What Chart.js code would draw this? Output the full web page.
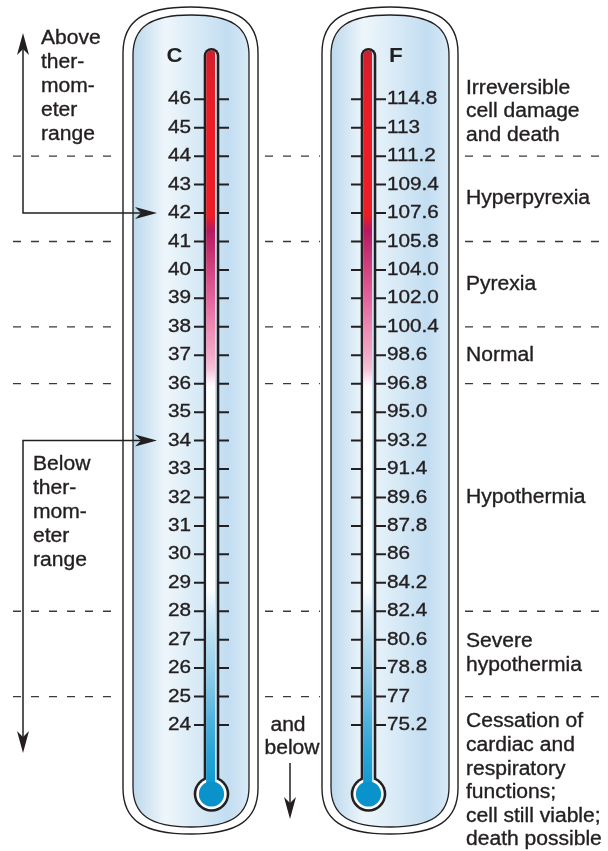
<!DOCTYPE html>
<html>
<head>
<meta charset="utf-8">
<script src="https://cdn.jsdelivr.net/npm/chart.js@4.4.0/dist/chart.umd.min.js"></script>
<style>
  html, body { margin: 0; padding: 0; background: #fff; }
  #wrap { width: 608px; height: 851px; }
</style>
</head>
<body>
<div id="wrap"><canvas id="thermo" width="608" height="851"></canvas></div>
<script>
// Celsius ticks and the matching Fahrenheit labels as printed
const celsius = [46, 45, 44, 43, 42, 41, 40, 39, 38, 37, 36, 35, 34, 33, 32, 31, 30, 29, 28, 27, 26, 25, 24];
const fahrenheit = ['114.8', '113', '111.2', '109.4', '107.6', '105.8', '104.0', '102.0', '100.4', '98.6', '96.8',
  '95.0', '93.2', '91.4', '89.6', '87.8', '86', '84.2', '82.4', '80.6', '78.8', '77', '75.2'];

// Zone boundaries (°C) and the text of each zone, top to bottom
const zoneBounds = [44, 41, 38, 36, 28, 25];
const zoneLabels = [
  ['Irreversible', 'cell damage', 'and death'],
  ['Hyperpyrexia'],
  ['Pyrexia'],
  ['Normal'],
  ['Hypothermia'],
  ['Severe', 'hypothermia'],
  ['Cessation of', 'cardiac and', 'respiratory', 'functions;', 'cell still viable;', 'death possible']
];
const zoneLabelAt = [45.55, 42.5, 39.5, 37, 32, 26.5, 22.03];

// Out-of-range notes and where their arrows point (°C)
const rangeNotes = [['Above', 'ther-', 'mom-', 'eter', 'range'], ['Below', 'ther-', 'mom-', 'eter', 'range']];
const rangeArrowAt = [42, 34];

const INK = '#231f20';
const LEFT_X = 211.5, RIGHT_X = 368.5;

function txt(ctx, s, x, y, size, align, sx, bold) {
  ctx.save();
  ctx.font = (bold ? 'bold ' : '') + size + 'px "Liberation Sans", Arial, sans-serif';
  ctx.fillStyle = INK;
  ctx.strokeStyle = INK;
  ctx.lineWidth = 0.35;
  ctx.textBaseline = 'middle';
  ctx.textAlign = align;
  ctx.translate(x, y);
  ctx.scale(sx, 1);
  ctx.fillText(s, 0, 0);
  if (!bold) ctx.strokeText(s, 0, 0);
  ctx.restore();
}

function capsule(ctx, l, t, r, b, ry) {
  const cx = (l + r) / 2, k = 0.7;
  ctx.beginPath();
  ctx.moveTo(l, t + ry);
  ctx.bezierCurveTo(l, t + ry * (1 - k), cx - (cx - l) * k, t, cx, t);
  ctx.bezierCurveTo(cx + (r - cx) * k, t, r, t + ry * (1 - k), r, t + ry);
  ctx.lineTo(r, b - ry);
  ctx.bezierCurveTo(r, b - ry * (1 - k), cx + (r - cx) * k, b, cx, b);
  ctx.bezierCurveTo(cx - (cx - l) * k, b, l, b - ry * (1 - k), l, b - ry);
  ctx.closePath();
}

function arrowHead(ctx, x, y, dir) {
  // dir: 'up' | 'down' | 'right'
  const len = 22, hw = 6, notch = 6;
  ctx.save();
  ctx.translate(x, y);
  ctx.rotate(dir === 'up' ? -Math.PI / 2 : dir === 'down' ? Math.PI / 2 : 0);
  ctx.beginPath();
  ctx.moveTo(0, 0);
  ctx.lineTo(-len, -hw);
  ctx.lineTo(-len + notch, 0);
  ctx.lineTo(-len, hw);
  ctx.closePath();
  ctx.fillStyle = INK;
  ctx.fill();
  ctx.restore();
}

function drawBody(ctx, outer, inner) {
  capsule(ctx, outer[0], outer[1], outer[2], outer[3], 46);
  ctx.fillStyle = '#fff';
  ctx.fill();
  ctx.lineWidth = 1.4;
  ctx.strokeStyle = INK;
  ctx.stroke();
  const g = ctx.createLinearGradient(inner[0], 0, inner[2], 0);
  g.addColorStop(0, '#bcd8ed');
  g.addColorStop(0.28, '#eef6fb');
  g.addColorStop(0.55, '#d8eaf6');
  g.addColorStop(0.82, '#c2ddf1');
  g.addColorStop(1, '#d9eaf6');
  capsule(ctx, inner[0], inner[1], inner[2], inner[3], 40);
  ctx.fillStyle = g;
  ctx.fill();
  ctx.lineWidth = 1.3;
  ctx.stroke();
}

function drawTube(ctx, cx, yScale) {
  const top = 49, bulbY = 794;
  const liquidStops = [[47.8, '#cf1f2e'], [46.5, '#e41d28'], [45, '#ee1c25'], [41.9, '#ee1c25'], [41.4, '#b8175f'],
    [40.8, '#c42a6e'], [40, '#d4447f'], [39, '#e4629b'], [38, '#ee88b3'], [37, '#f3a8c7'], [36.5, '#f7c2d7'],
    [36.2, '#fbe3ee'], [35.9, '#ffffff'], [28.8, '#ffffff'], [28, '#d8edf8'], [27, '#b7ddf1'], [26, '#99d0ea'],
    [25, '#73c0e3'], [24, '#48b0dc'], [23, '#27a4d7'], [22, '#129bd2']];
  // outline: tube + bulb
  ctx.fillStyle = INK;
  ctx.beginPath();
  ctx.roundRect(cx - 7.8, top - 1, 15.6, bulbY - top, 7.8);
  ctx.fill();
  ctx.beginPath();
  ctx.arc(cx, bulbY, 17.8, 0, Math.PI * 2);
  ctx.fill();
  // white ring around bulb
  ctx.fillStyle = '#fff';
  ctx.beginPath();
  ctx.arc(cx, bulbY, 15.2, 0, Math.PI * 2);
  ctx.fill();
  // glass inside
  ctx.fillStyle = '#c4e2f3';
  ctx.beginPath();
  ctx.roundRect(cx - 5.3, top + 1.5, 10.6, bulbY - top, 5.3);
  ctx.fill();
  // liquid
  const y0 = yScale.getPixelForValue(47.8), y1 = yScale.getPixelForValue(22);
  const g = ctx.createLinearGradient(0, y0, 0, y1);
  liquidStops.forEach(s => {
    g.addColorStop((yScale.getPixelForValue(s[0]) - y0) / (y1 - y0), s[1]);
  });
  ctx.fillStyle = g;
  ctx.beginPath();
  ctx.roundRect(cx - 5.3, top + 1.5, 8.8, bulbY - top, [5, 3, 0, 0]);
  ctx.fill();
  ctx.fillStyle = '#0a93cb';
  ctx.beginPath();
  ctx.arc(cx, bulbY, 12.6, 0, Math.PI * 2);
  ctx.fill();
}

const thermoPlugin = {
  id: 'thermo',
  beforeDatasetsDraw(chart) {
    const ctx = chart.ctx;
    ctx.save();
    drawBody(ctx, [123, 7, 258, 834], [133, 15, 249, 827]);
    drawBody(ctx, [322, 7, 458, 834], [331, 15, 449, 827]);
    ctx.restore();
  },
  afterDatasetsDraw(chart) {
    const ctx = chart.ctx;
    const y = chart.scales.y;
    ctx.save();
    drawTube(ctx, LEFT_X, y);
    drawTube(ctx, RIGHT_X, y);

    // scale headings
    txt(ctx, 'C', 174.5, 56, 20.5, 'center', 1.08, true);
    txt(ctx, 'F', 389, 56.5, 20.5, 'left', 1.1, true);

    // tick labels
    celsius.forEach((c, i) => {
      const py = y.getPixelForValue(c);
      txt(ctx, String(c), 191, py, 18.5, 'right', 1.12, false);
      txt(ctx, fahrenheit[i], 387, py, 18.5, 'left', 1.12, false);
    });

    // zone labels on the right
    const lh = 23.6;
    zoneLabels.forEach((lines, i) => {
      const cy = y.getPixelForValue(zoneLabelAt[i]);
      lines.forEach((s, j) => {
        txt(ctx, s, 466, cy + (j - (lines.length - 1) / 2) * lh, 19.5, 'left', 1.08, false);
      });
    });

    // out-of-range notes with arrows
    ctx.strokeStyle = INK;
    ctx.lineWidth = 1.5;
    const noteX = [41, 33], noteY = [86.5, 512.5], vx = 23;
    rangeNotes.forEach((lines, i) => {
      lines.forEach((s, j) => {
        txt(ctx, s, noteX[i], noteY[i] + (j - 2) * 24, 19.5, 'left', 1.08, false);
      });
      const ay = y.getPixelForValue(rangeArrowAt[i]);
      const endY = i === 0 ? 33 : 753;
      ctx.strokeStyle = INK;
      ctx.lineWidth = 1.5;
      ctx.beginPath();
      ctx.moveTo(157 - 16, ay);
      ctx.lineTo(vx, ay);
      ctx.lineTo(vx, i === 0 ? endY + 16 : endY - 16);
      ctx.stroke();
      arrowHead(ctx, 157, ay, 'right');
      arrowHead(ctx, vx, endY, i === 0 ? 'up' : 'down');
    });

    // "and below"
    txt(ctx, 'and', 288, 726, 19.5, 'center', 1.08, false);
    txt(ctx, 'below', 292, 749, 19.5, 'center', 1.08, false);
    ctx.strokeStyle = INK;
    ctx.lineWidth = 1.5;
    ctx.beginPath();
    ctx.moveTo(290, 763);
    ctx.lineTo(290, 805);
    ctx.stroke();
    arrowHead(ctx, 290, 819, 'down');
    ctx.restore();
  }
};

const tickStyle = {
  showLine: false,
  pointStyle: 'line',
  pointRadius: 17.5,
  pointHoverRadius: 17.5,
  pointBorderWidth: 2,
  pointBorderColor: INK,
  borderColor: INK
};

const boundaryDatasets = zoneBounds.map(b => ({
  data: [{ x: 13, y: b }, { x: 118, y: b }, { x: 190, y: null }, { x: 265, y: b }, { x: 320, y: b },
    { x: 400, y: null }, { x: 465, y: b }, { x: 604, y: b }],
  showLine: true,
  spanGaps: false,
  pointRadius: 0,
  borderColor: '#3a3a3a',
  borderWidth: 1.3,
  borderDash: [8, 10]
}));

new Chart(document.getElementById('thermo'), {
  type: 'scatter',
  data: {
    datasets: [
      Object.assign({ data: celsius.map(c => ({ x: LEFT_X, y: c })) }, tickStyle),
      Object.assign({ data: fahrenheit.map((f, i) => ({ x: RIGHT_X, y: celsius[i] })) }, tickStyle)
    ].concat(boundaryDatasets)
  },
  options: {
    responsive: false,
    animation: false,
    events: [],
    devicePixelRatio: 1,
    layout: { padding: 0, autoPadding: false },
    plugins: { legend: { display: false }, tooltip: { enabled: false } },
    scales: {
      x: { type: 'linear', min: 0, max: 608, display: false },
      y: { type: 'linear', min: 19.57, max: 49.49, display: false }
    }
  },
  plugins: [thermoPlugin]
});
</script>
</body>
</html>
